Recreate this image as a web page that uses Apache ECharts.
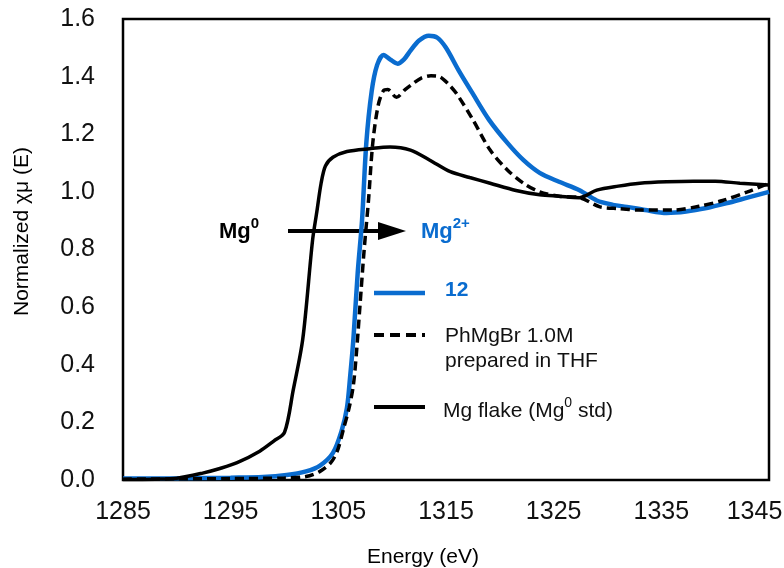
<!DOCTYPE html>
<html>
<head>
<meta charset="utf-8">
<script src="https://cdn.jsdelivr.net/npm/echarts@6/dist/echarts.min.js"></script>
<style>
  html, body { margin: 0; padding: 0; background: #fff; overflow: hidden; }
  #main { width: 784px; height: 568px; }
</style>
</head>
<body>
<div id="main"></div>
<script>
// 数据: 能量 (eV) 与归一化吸收
var blueE = [1285, 1290, 1295, 1298, 1300.2, 1302, 1303.3, 1304.5, 1305.3, 1305.8, 1306.1, 1306.4, 1306.8, 1307.2, 1307.6, 1308.1, 1308.6, 1309.2, 1309.8, 1310.5, 1311.1, 1311.7, 1312.5, 1313.4, 1314.2, 1315.0, 1316.2, 1317.5, 1319.0, 1320.7, 1322.2, 1323.7, 1325.5, 1327.4, 1329.0, 1330.5, 1331.8, 1333.5, 1335.5, 1337.3, 1339.2, 1341, 1343, 1345];
var blueY = [0.005, 0.006, 0.008, 0.01, 0.017, 0.03, 0.05, 0.094, 0.17, 0.25, 0.36, 0.49, 0.72, 0.9, 1.17, 1.35, 1.44, 1.475, 1.46, 1.445, 1.46, 1.49, 1.525, 1.542, 1.535, 1.50, 1.42, 1.34, 1.25, 1.17, 1.11, 1.066, 1.035, 1.006, 0.97, 0.955, 0.948, 0.937, 0.927, 0.932, 0.944, 0.96, 0.98, 1.0];

var dashE = [1285, 1290, 1295, 1300, 1302, 1303.3, 1304.3, 1304.9, 1305.5, 1306.0, 1306.4, 1306.7, 1307.0, 1307.4, 1307.8, 1308.2, 1308.7, 1309.2, 1309.6, 1310.4, 1311.2, 1311.9, 1312.7, 1313.6, 1314.4, 1315.2, 1316.0, 1317.5, 1319.1, 1320.7, 1322.2, 1323.7, 1325.5, 1327.4, 1329.3, 1331, 1333.0, 1336.1, 1338.5, 1340.7, 1343, 1345];
var dashY = [0.003, 0.004, 0.005, 0.007, 0.012, 0.03, 0.06, 0.10, 0.18, 0.25, 0.33, 0.45, 0.60, 0.80, 0.97, 1.17, 1.30, 1.352, 1.355, 1.328, 1.355, 1.375, 1.395, 1.403, 1.40, 1.375, 1.34, 1.25, 1.145, 1.076, 1.03, 1.0, 0.985, 0.98, 0.948, 0.942, 0.937, 0.937, 0.95, 0.97, 1.0, 1.03];

var flakeE = [1285, 1288, 1290, 1292.4, 1294, 1295.6, 1297.7, 1299, 1300.0, 1300.8, 1301.7, 1302.6, 1303.0, 1303.4, 1303.8, 1304.5, 1305.8, 1307.9, 1309.8, 1311.7, 1313.5, 1315.4, 1317.2, 1319.1, 1321.5, 1323.7, 1325.5, 1327.4, 1329.0, 1331, 1333.0, 1335.5, 1338, 1340, 1342.3, 1345];
var flakeY = [0.002, 0.003, 0.006, 0.024, 0.04, 0.06, 0.10, 0.135, 0.165, 0.31, 0.49, 0.83, 0.93, 1.03, 1.09, 1.12, 1.14, 1.15, 1.156, 1.145, 1.11, 1.07, 1.05, 1.03, 1.005, 0.99, 0.985, 0.98, 1.006, 1.02, 1.03, 1.035, 1.037, 1.037, 1.03, 1.024];

var legendNames = ['12', 'PhMgBr 1.0M\nprepared in THF', 'Mg flake (Mg⁰ std)'];

function pairs(xs, ys) {
    var out = [];
    for (var i = 0; i < xs.length; i++) {
        out.push([xs[i], ys[i]]);
    }
    return out;
}

var blue = '#0a6ccf';
var font = 'Liberation Sans, Arial, sans-serif';

var chart = echarts.init(document.getElementById('main'), null, { width: 784, height: 568 });
var option = {
    animation: false,
    backgroundColor: '#fff',
    grid: {
        left: 123, right: 15, top: 19, bottom: 88,
        outerBoundsMode: 'none',
        containLabel: false,
        show: true,
        borderColor: '#000',
        borderWidth: 2.5
    },
    xAxis: {
        type: 'value',
        min: 1285, max: 1345, interval: 10,
        name: 'Energy (eV)',
        nameLocation: 'middle',
        nameGap: 67,
        nameTextStyle: { fontFamily: font, fontSize: 21, color: '#000', padding: [0, 46, 0, 0] },
        axisLine: { show: false },
        axisTick: { show: false },
        splitLine: { show: false },
        axisLabel: {
            margin: 20, fontFamily: font, fontSize: 25, color: '#111',
            formatter: function (v) {
                // 最右边的刻度标签在原图里向左收进画布
                return v === 1345 ? '{last|' + v + '}' : String(v);
            },
            rich: {
                last: { fontFamily: font, fontSize: 25, color: '#111', padding: [0, 29, 0, 0] }
            }
        }
    },
    yAxis: {
        type: 'value',
        min: 0, max: 1.6, interval: 0.2,
        name: 'Normalized χμ (E)',
        nameLocation: 'middle',
        nameGap: 90,
        nameTextStyle: { fontFamily: font, fontSize: 21, color: '#000', padding: [0, 0, 0, 36] },
        axisLine: { show: false },
        axisTick: { show: false },
        splitLine: { show: false },
        axisLabel: {
            margin: 28, fontFamily: font, fontSize: 25, color: '#111',
            formatter: function (v) { return v.toFixed(1); }
        }
    },
    series: [
        {
            name: legendNames[2], type: 'line', data: pairs(flakeE, flakeY),
            showSymbol: false, smooth: 0.3,
            lineStyle: { color: '#000', width: 3.5 }, z: 3
        },
        {
            name: legendNames[1], type: 'line', data: pairs(dashE, dashY),
            showSymbol: false, smooth: 0.3,
            lineStyle: { color: '#000', width: 3.5, type: [9, 5] }, z: 4
        },
        {
            name: legendNames[0], type: 'line', data: pairs(blueE, blueY),
            showSymbol: false, smooth: 0.3,
            lineStyle: { color: blue, width: 4.5 }, z: 2
        }
    ],
    graphic: [
        // 图例
        { type: 'line', shape: { x1: 374, y1: 293, x2: 425, y2: 293 }, style: { stroke: blue, lineWidth: 4.5 } },
        { type: 'text', left: 445, top: 280, style: { text: legendNames[0], fill: blue, font: 'bold 21px ' + font } },
        { type: 'line', shape: { x1: 374, y1: 335, x2: 425, y2: 335 }, style: { stroke: '#000', lineWidth: 4, lineDash: [10, 6] } },
        { type: 'text', left: 445, top: 324, style: { text: legendNames[1], fill: '#111', font: '21px ' + font, lineHeight: 25 } },
        { type: 'line', shape: { x1: 374, y1: 407, x2: 425, y2: 407 }, style: { stroke: '#000', lineWidth: 4 } },
        {
            type: 'text', left: 443, top: 396,
            style: {
                text: '{n|Mg flake (Mg}{s|0}{n| std)}',
                fill: '#111',
                rich: {
                    n: { fontFamily: font, fontSize: 21, lineHeight: 26, verticalAlign: 'bottom' },
                    s: { fontFamily: font, fontSize: 14, lineHeight: 26, verticalAlign: 'top' }
                }
            }
        },
        // Mg0 -> Mg2+ 注释
        {
            type: 'text', left: 219, top: 216,
            style: {
                text: '{n|Mg}{s|0}',
                fill: '#000',
                rich: {
                    n: { fontFamily: font, fontSize: 22, fontWeight: 'bold', lineHeight: 27, verticalAlign: 'bottom' },
                    s: { fontFamily: font, fontSize: 15, fontWeight: 'bold', lineHeight: 27, verticalAlign: 'top' }
                }
            }
        },
        { type: 'line', shape: { x1: 288, y1: 231, x2: 382, y2: 231 }, style: { stroke: '#000', lineWidth: 4 } },
        { type: 'polygon', shape: { points: [[378, 222], [406, 231], [378, 240]] }, style: { fill: '#000' } },
        {
            type: 'text', left: 421, top: 216,
            style: {
                text: '{n|Mg}{s|2+}',
                fill: blue,
                rich: {
                    n: { fontFamily: font, fontSize: 22, fontWeight: 'bold', lineHeight: 27, verticalAlign: 'bottom' },
                    s: { fontFamily: font, fontSize: 15, fontWeight: 'bold', lineHeight: 27, verticalAlign: 'top' }
                }
            }
        }
    ]
};
chart.setOption(option);
</script>
</body>
</html>
